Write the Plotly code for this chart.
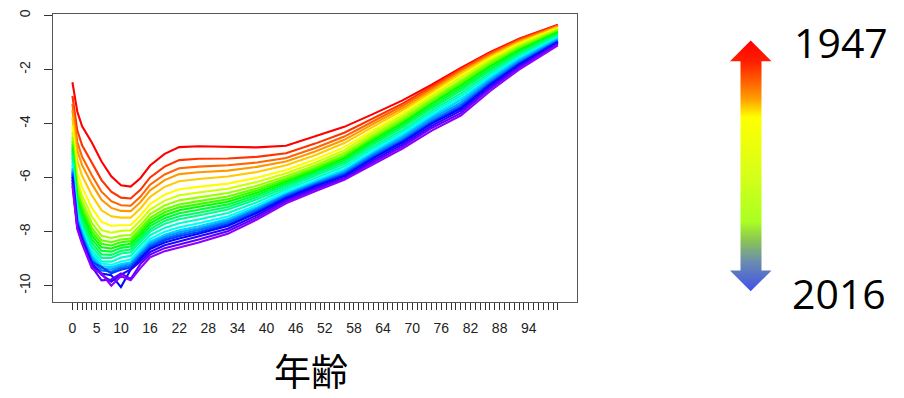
import colorsys
import plotly.graph_objects as go

# ages (x) and log mortality rates per year
ages = [0, 1, 2, 4, 6, 8, 10, 12, 14, 16, 19, 22, 26, 32, 38, 44, 50, 56, 62, 68, 74, 80, 86, 92, 100]

lm_1947 = [-2.47,-3.55,-4.10,-4.70,-5.40,-5.95,-6.28,-6.33,-6.02,-5.55,-5.12,-4.87,-4.84,-4.87,-4.88,-4.82,-4.48,-4.12,-3.64,-3.14,-2.56,-1.94,-1.36,-0.86,-0.34]
lm_1950 = [-2.97,-4.25,-4.80,-5.44,-6.09,-6.52,-6.74,-6.77,-6.45,-5.99,-5.59,-5.35,-5.30,-5.29,-5.23,-5.10,-4.74,-4.34,-3.80,-3.26,-2.63,-1.98,-1.39,-0.88,-0.36]
lm_1953 = [-3.27,-4.68,-5.23,-5.91,-6.52,-6.87,-7.02,-7.04,-6.71,-6.26,-5.88,-5.65,-5.59,-5.54,-5.44,-5.27,-4.90,-4.48,-3.91,-3.34,-2.70,-2.03,-1.43,-0.92,-0.38]
lm_1956 = [-3.50,-4.99,-5.54,-6.23,-6.82,-7.12,-7.23,-7.24,-6.91,-6.47,-6.09,-5.87,-5.80,-5.74,-5.60,-5.40,-5.03,-4.60,-4.01,-3.43,-2.77,-2.10,-1.49,-0.96,-0.41]
lm_1959 = [-3.77,-5.38,-5.93,-6.65,-7.21,-7.43,-7.48,-7.48,-7.14,-6.71,-6.34,-6.13,-6.05,-5.96,-5.79,-5.54,-5.17,-4.72,-4.11,-3.51,-2.84,-2.15,-1.53,-1.00,-0.43]
lm_1962 = [-4.08,-5.81,-6.36,-7.12,-7.64,-7.78,-7.76,-7.75,-7.40,-6.98,-6.63,-6.43,-6.34,-6.22,-6.00,-5.72,-5.33,-4.87,-4.23,-3.61,-2.92,-2.23,-1.59,-1.04,-0.46]
lm_1965 = [-4.31,-6.12,-6.67,-7.44,-7.94,-8.04,-7.97,-7.95,-7.59,-7.18,-6.85,-6.65,-6.55,-6.41,-6.16,-5.84,-5.45,-4.98,-4.32,-3.70,-2.99,-2.30,-1.65,-1.09,-0.49]
lm_1968 = [-4.50,-6.33,-6.88,-7.68,-8.15,-8.23,-8.15,-8.12,-7.76,-7.35,-7.03,-6.84,-6.73,-6.57,-6.30,-5.95,-5.55,-5.08,-4.42,-3.79,-3.08,-2.39,-1.72,-1.15,-0.53]
lm_1971 = [-4.65,-6.51,-7.06,-7.86,-8.32,-8.39,-8.29,-8.25,-7.89,-7.49,-7.17,-6.99,-6.87,-6.70,-6.40,-6.03,-5.63,-5.17,-4.50,-3.87,-3.16,-2.47,-1.79,-1.20,-0.57]
lm_1974 = [-4.77,-6.64,-7.19,-8.00,-8.45,-8.51,-8.39,-8.35,-7.99,-7.59,-7.28,-7.10,-6.98,-6.80,-6.48,-6.10,-5.69,-5.24,-4.57,-3.95,-3.24,-2.56,-1.86,-1.26,-0.61]
lm_1977 = [-4.88,-6.77,-7.32,-8.14,-8.58,-8.62,-8.50,-8.45,-8.09,-7.69,-7.39,-7.21,-7.08,-6.89,-6.56,-6.16,-5.75,-5.29,-4.62,-3.99,-3.27,-2.60,-1.89,-1.28,-0.62]
lm_1980 = [-5.00,-6.90,-7.45,-8.28,-8.71,-8.74,-8.60,-8.55,-8.19,-7.79,-7.50,-7.32,-7.19,-6.99,-6.64,-6.23,-5.81,-5.36,-4.69,-4.06,-3.35,-2.69,-1.97,-1.34,-0.66]
lm_1983 = [-5.11,-7.03,-7.58,-8.42,-8.84,-8.86,-8.71,-8.66,-8.28,-7.90,-7.60,-7.43,-7.30,-7.09,-6.72,-6.29,-5.87,-5.43,-4.76,-4.14,-3.43,-2.78,-2.04,-1.40,-0.70]
lm_1986 = [-5.23,-7.16,-7.71,-8.56,-8.97,-8.97,-8.81,-8.76,-8.38,-8.00,-7.71,-7.54,-7.40,-7.18,-6.80,-6.35,-5.93,-5.50,-4.84,-4.23,-3.52,-2.88,-2.12,-1.46,-0.74]
lm_1989 = [-5.38,-7.29,-7.84,-8.70,-9.10,-9.11,-8.96,-8.89,-8.51,-8.13,-7.86,-7.69,-7.55,-7.31,-6.91,-6.44,-6.02,-5.59,-4.92,-4.31,-3.60,-2.97,-2.20,-1.52,-0.78]
lm_1992 = [-5.53,-7.38,-7.93,-8.79,-9.18,-9.23,-9.10,-9.03,-8.64,-8.27,-8.00,-7.84,-7.69,-7.44,-7.02,-6.52,-6.10,-5.68,-5.00,-4.39,-3.68,-3.06,-2.27,-1.58,-0.82]
lm_1995 = [-5.65,-7.47,-8.02,-8.89,-9.27,-9.32,-9.20,-9.13,-8.74,-8.37,-8.11,-7.95,-7.80,-7.53,-7.10,-6.59,-6.16,-5.74,-5.07,-4.45,-3.75,-3.13,-2.33,-1.62,-0.85]
lm_1998 = [-5.73,-7.55,-8.10,-8.98,-9.36,-9.40,-9.27,-9.20,-8.81,-8.44,-8.18,-8.02,-7.87,-7.60,-7.15,-6.63,-6.20,-5.79,-5.12,-4.52,-3.82,-3.22,-2.40,-1.68,-0.89]
lm_2001 = [-5.80,-7.64,-8.19,-9.07,-9.44,-9.48,-9.34,-9.26,-8.87,-8.51,-8.25,-8.10,-7.94,-7.66,-7.20,-6.67,-6.24,-5.85,-5.18,-4.59,-3.90,-3.31,-2.47,-1.74,-0.93]
lm_2004 = [-5.88,-7.68,-8.23,-9.12,-9.30,-9.54,-9.41,-9.33,-8.94,-8.58,-8.32,-8.17,-8.01,-7.73,-7.26,-6.72,-6.28,-5.89,-5.24,-4.65,-3.96,-3.38,-2.53,-1.78,-0.96]
lm_2007 = [-5.96,-7.75,-8.30,-9.19,-9.55,-9.61,-10.05,-9.40,-9.01,-8.64,-8.40,-8.25,-8.08,-7.79,-7.31,-6.76,-6.32,-5.94,-5.28,-4.69,-4.00,-3.44,-2.57,-1.82,-0.98]
lm_2010 = [-6.07,-7.79,-8.34,-9.23,-9.59,-9.85,-9.59,-9.40,-9.10,-8.75,-8.50,-8.36,-8.19,-7.89,-7.39,-6.82,-6.38,-6.01,-5.35,-4.77,-4.08,-3.52,-2.64,-1.88,-1.02]
lm_2013 = [-6.19,-7.86,-8.41,-9.30,-9.80,-9.77,-9.55,-9.75,-9.20,-8.85,-8.61,-8.47,-8.29,-7.98,-7.47,-6.89,-6.44,-6.05,-5.42,-4.84,-4.16,-3.61,-2.71,-1.93,-1.05]
lm_2016 = [-6.30,-7.90,-8.45,-9.35,-9.55,-10.00,-9.65,-9.80,-9.35,-8.95,-8.72,-8.58,-8.40,-8.08,-7.55,-6.95,-6.50,-6.08,-5.50,-4.92,-4.26,-3.70,-2.80,-2.00,-1.10]

years = [1947, 1950, 1953, 1956, 1959, 1962, 1965, 1968, 1971, 1974, 1977, 1980,
         1983, 1986, 1989, 1992, 1995, 1998, 2001, 2004, 2007, 2010, 2013, 2016]
values = [lm_1947, lm_1950, lm_1953, lm_1956, lm_1959, lm_1962, lm_1965, lm_1968,
          lm_1971, lm_1974, lm_1977, lm_1980, lm_1983, lm_1986, lm_1989, lm_1992,
          lm_1995, lm_1998, lm_2001, lm_2004, lm_2007, lm_2010, lm_2013, lm_2016]

first_year, last_year = 1947, 2016
x_tick_labels = [0, 5, 10, 16, 22, 28, 34, 40, 46, 52, 58, 64, 70, 76, 82, 88, 94]
y_ticks = [0, -2, -4, -6, -8, -10]

W, H = 904, 398
HUE_END = 0.76

fig = go.Figure()
n = last_year - first_year
for year, vals in zip(years, values):
    h = HUE_END * (year - first_year) / n
    r, g, b = colorsys.hsv_to_rgb(h, 1, 1)
    color = "rgb(%d,%d,%d)" % (round(r * 255), round(g * 255), round(b * 255))
    fig.add_trace(go.Scatter(x=ages, y=vals, mode="lines",
                             line=dict(color=color, width=2.1),
                             hoverinfo="skip", showlegend=False))

# gradient double arrow (decoration, pixel coordinates)
ax_ = [750.7, 771.5, 761.5, 761.5, 771.5, 750.7, 730.0, 740.5, 740.5, 730.0, 750.7]
ay_ = [36, 57, 57, 269, 269, 290, 269, 269, 57, 57, 36]
fig.add_trace(go.Scatter(
    x=ax_, y=ay_, xaxis="x2", yaxis="y2", mode="none", fill="toself",
    fillgradient=dict(type="vertical", start=36, stop=290, colorscale=[
        [0.0, "#ff0000"], [0.083, "#ff2000"], [0.16, "#ff6000"], [0.23, "#ffa000"],
        [0.30, "#ffff00"], [0.52, "#d8ff18"], [0.71, "#aaff22"], [0.78, "#8dc850"],
        [0.87, "#6a8cb0"], [1.0, "#3a48f0"]]),
    hoverinfo="skip", showlegend=False))

ticktext = [str(a) if a in x_tick_labels else "" for a in range(101)]
tickfont = dict(family="Liberation Sans, Arial, sans-serif", size=14, color="#222")

fig.update_layout(
    width=W, height=H, margin=dict(l=0, r=0, t=0, b=0),
    paper_bgcolor="white", plot_bgcolor="rgba(0,0,0,0)", showlegend=False,
    xaxis=dict(domain=[53 / W, 577.3 / W], range=[-4, 104],
               tickvals=list(range(101)), ticktext=ticktext, tickangle=0,
               ticks="outside", ticklen=7, tickwidth=1, tickcolor="#333",
               showline=True, linecolor="#555", linewidth=1, mirror=True,
               showgrid=False, zeroline=False, tickfont=tickfont,
               ticklabelstandoff=6),
    yaxis=dict(domain=[1 - 300.7 / H, 1 - 9.5 / H], range=[-10.6, 0.044],
               tickvals=y_ticks, ticktext=[str(v) for v in y_ticks], tickangle=-90,
               ticks="outside", ticklen=8, tickwidth=1, tickcolor="#333",
               showline=True, linecolor="#555", linewidth=1, mirror=True,
               showgrid=False, zeroline=False, tickfont=tickfont,
               ticklabelstandoff=8),
    xaxis2=dict(domain=[0, 1], range=[0, W], visible=False, anchor="y2"),
    yaxis2=dict(domain=[0, 1], range=[H, 0], visible=False, anchor="x2"),
    annotations=[
        dict(text="年齢", x=311 / W, y=1 - 370 / H, xref="paper", yref="paper",
             xanchor="center", yanchor="middle", showarrow=False,
             font=dict(family="Noto Sans CJK JP", size=37, color="black")),
        dict(text=str(first_year), x=841 / W, y=1 - 37 / H, xref="paper", yref="paper",
             xanchor="center", yanchor="middle", showarrow=False,
             font=dict(family="Open Sans", size=41, color="black")),
        dict(text=str(last_year), x=839 / W, y=1 - 292 / H, xref="paper", yref="paper",
             xanchor="center", yanchor="middle", showarrow=False,
             font=dict(family="Open Sans", size=41, color="black")),
    ],
)

fig.write_html("out.html", config={"displayModeBar": False},
               post_script="document.body.style.margin='0';document.body.style.padding='0';")
